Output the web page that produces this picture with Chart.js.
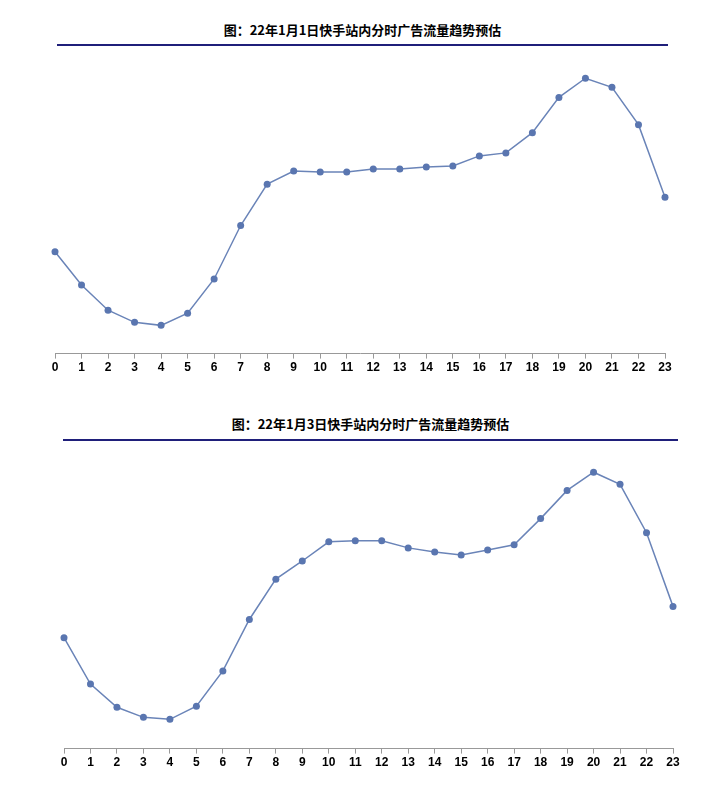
<!DOCTYPE html>
<html><head><meta charset="utf-8">
<script src="https://cdn.jsdelivr.net/npm/chart.js@4/dist/chart.umd.min.js"></script>
<style>
body{margin:0;background:#fff;font-family:"Noto Sans CJK SC",sans-serif;}
.t{position:absolute;font-weight:bold;font-size:13px;text-align:center;color:#000;border-bottom:2px solid #1f1f7a;}
.c{position:absolute;}
</style></head><body>
<div class="t" style="left:57px;top:20px;width:611px;height:24px;line-height:20px;">图：22年1月1日快手站内分时广告流量趋势预估</div>
<div class="c" style="left:40px;top:47px;width:640px;height:330px;"><canvas id="c1"></canvas></div>
<div class="t" style="left:63px;top:414px;width:615px;height:25px;line-height:20px;">图：22年1月3日快手站内分时广告流量趋势预估</div>
<div class="c" style="left:49px;top:442px;width:639px;height:330px;"><canvas id="c2"></canvas></div>
<script>
const hours=["0","1","2","3","4","5","6","7","8","9","10","11","12","13","14","15","16","17","18","19","20","21","22","23"];
const jan1=[101,68,43,31,28,40,74,127,168,181,180,180,183,183,185,186,196,199,219,254,273,264,227,155];
const jan3=[110,64,41,31,29,42,77,128,168,186,205,206,206,199,195,192,197,202,228,256,274,262,214,141];
function mk(id,data){
new Chart(document.getElementById(id),{type:'line',
data:{labels:hours,datasets:[{data:data,borderColor:'#6a84b8',backgroundColor:'#5a76b0',borderWidth:1.5,pointRadius:3.5,pointBorderWidth:0,tension:0}]},
options:{responsive:true,maintainAspectRatio:false,animation:false,layout:{padding:{left:15,right:15,top:0,bottom:0}},
plugins:{legend:{display:false},tooltip:{enabled:false}},
scales:{x:{offset:false,grid:{display:true,drawOnChartArea:false,tickLength:5,color:'#999'},border:{color:'#999'},ticks:{color:'#000',font:{size:12,weight:'bold',family:'Liberation Sans'},padding:2,maxRotation:0,autoSkip:false}},
y:{display:false,min:0,max:300}}}});
}
mk('c1',jan1);mk('c2',jan3);
</script></body></html>
